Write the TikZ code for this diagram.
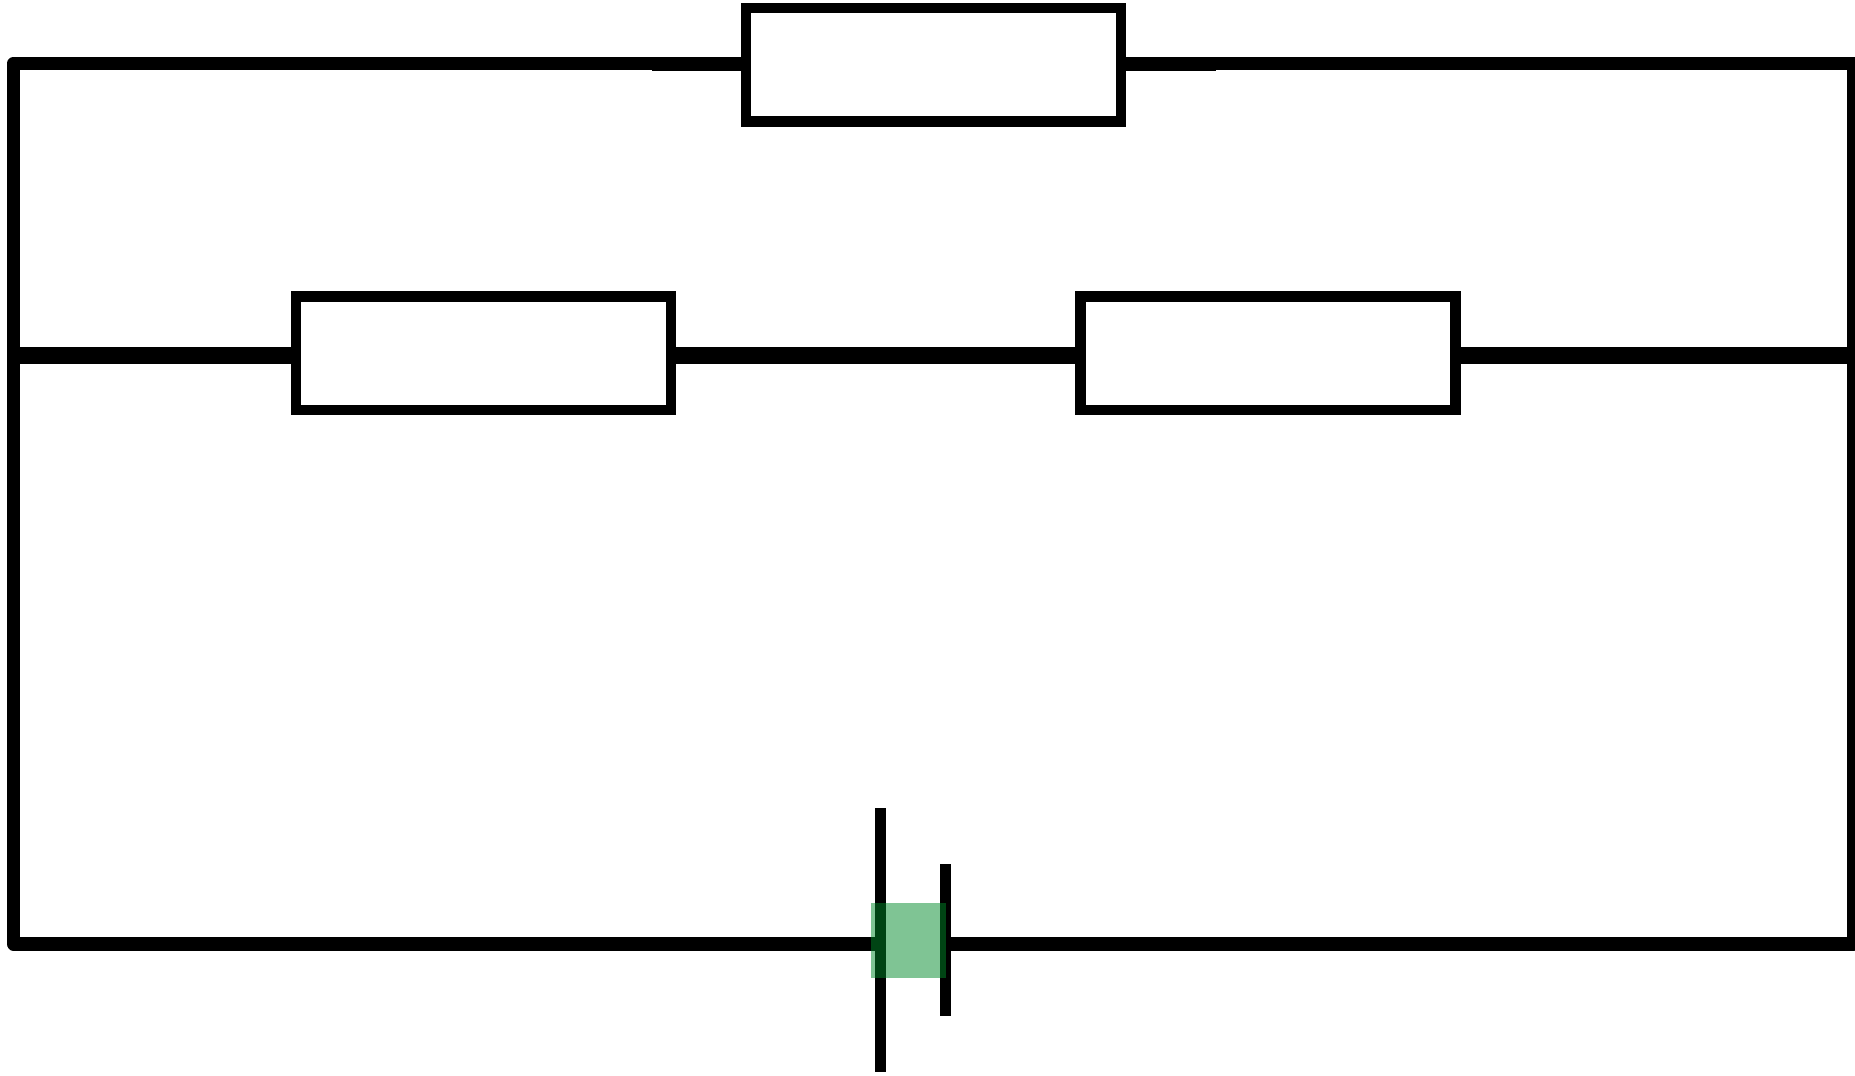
\documentclass[tikz,border=0pt]{standalone}
\begin{document}
\begin{tikzpicture}[x=1pt,y=-1pt,line join=round,
  resbox/.style={draw,line width=10.5pt,line join=miter,rectangle,inner sep=0pt,minimum width=375pt,minimum height=113.5pt},
  wire/.style={line width=13.5pt},
  leadwire/.style={line width=14pt},
  midwire/.style={line width=16.5pt},
  plate/.style={line width=11pt},
  cellbox/.style={fill={rgb,255:red,0;green,137;blue,41},fill opacity=0.5,rectangle,inner sep=0pt,minimum width=75pt,minimum height=75pt}]
\def \xmax{1855};
\def \ymax{1076};
\path[use as bounding box,clip] (0,0) rectangle (\xmax,\ymax);
\foreach \n/\x/\y in {top/933.4/64.7,left/483.4/353.4,right/1268/353.4}{\node[resbox] (\n) at (\x,\y) {};}
\foreach \n/\x/\y in {tl/13.5/63.5,tr/1853.5/63.5,bl/13.5/943.75,br/1853.5/943.75,ml/13.5/355.7,mr/1853.5/355.7,tla/652/63.75,tra/1216/63.75,blb/630/944.25,brb/1195/944.25,tlw/652/63.5,trw/1216/63.5,blw/630/943.75,brw/1195/943.75,pa/880.5/808,pb/880.5/1072,pc/945.5/864,pd/945.5/1016}{\coordinate (\n) at (\x,\y);}
\draw[wire] (tlw) -- (tl) -- (bl) -- (blw);
\draw[wire] (trw) -- (tr) -- (br) -- (brw);
\draw[leadwire] (tla) -- (tla -| top.west);
\draw[leadwire] (tra -| top.east) -- (tra);
\draw[leadwire] (blb) -- (blb -| pa);
\draw[leadwire] (brb -| pc) -- (brb);
\draw[midwire] (ml) -- (ml -| left.west);
\draw[midwire] (ml -| left.east) -- (ml -| right.west);
\draw[midwire] (ml -| right.east) -- (mr);
\draw[plate] (pa) -- (pb);
\draw[plate] (pc) -- (pd);
\node[cellbox] (cell) at (908.5,940.5) {};
\end{tikzpicture}
\end{document}
